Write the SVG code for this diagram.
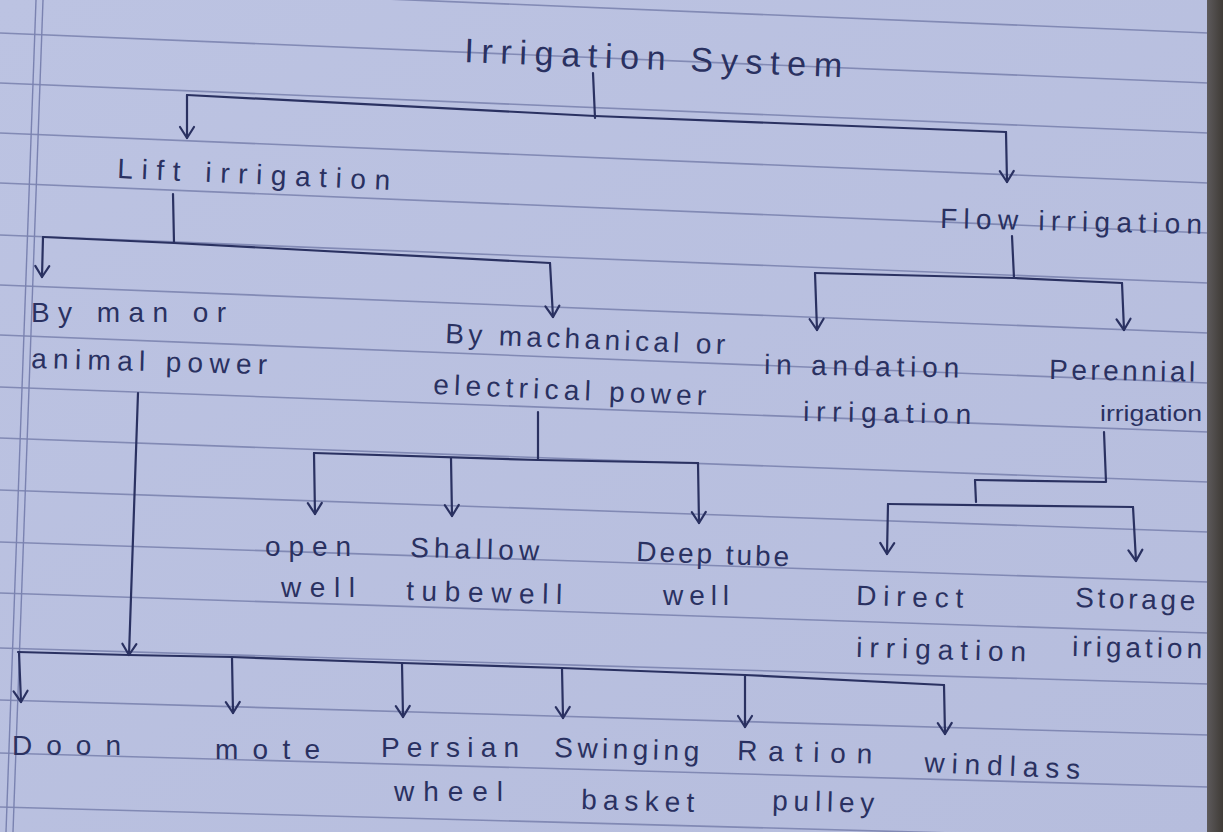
<svg xmlns="http://www.w3.org/2000/svg" width="1223" height="832" viewBox="0 0 1223 832">
<style>
.t{font-family:"Liberation Sans","DejaVu Sans",sans-serif;font-size:28px;fill:#2a3161}
.title{font-size:34px}
.sm{font-size:22px}
.rule{stroke:#6f77a6;stroke-width:1.6;opacity:0.75;fill:none}
.margin{stroke:#7a82b0;stroke-width:1.4;fill:none}
.c{stroke:#2a3161;stroke-width:2.2;fill:none;stroke-linecap:round;stroke-linejoin:round}
.a{marker-end:url(#arr)}
</style>
<defs>
<linearGradient id="paper" x1="0" y1="0" x2="1" y2="1">
<stop offset="0" stop-color="#bcc3e2"/>
<stop offset="1" stop-color="#b6bddd"/>
</linearGradient>
<linearGradient id="bind" x1="0" y1="0" x2="1" y2="0">
<stop offset="0" stop-color="#5d5a5c"/>
<stop offset="1" stop-color="#3f3b36"/>
</linearGradient>
<marker id="arr" viewBox="-13 -9 15 18" refX="0" refY="0" markerWidth="15" markerHeight="18" markerUnits="userSpaceOnUse" orient="auto">
<path d="M-11,-7 L0,0 L-11,7" fill="none" stroke="#2a3161" stroke-width="2.2" stroke-linecap="round" stroke-linejoin="round"/>
</marker>
</defs>
<rect width="1223" height="832" fill="url(#paper)"/>
<g id="ruling">
<line class="rule" x1="0" y1="-17" x2="1208" y2="33"/>
<line class="rule" x1="0" y1="33" x2="1208" y2="83"/>
<line class="rule" x1="0" y1="83" x2="1208" y2="133"/>
<line class="rule" x1="0" y1="133" x2="1208" y2="183"/>
<line class="rule" x1="0" y1="183" x2="1208" y2="233"/>
<line class="rule" x1="0" y1="235" x2="1208" y2="283"/>
<line class="rule" x1="0" y1="285" x2="1208" y2="333"/>
<line class="rule" x1="0" y1="335" x2="1208" y2="383"/>
<line class="rule" x1="0" y1="387" x2="1208" y2="432"/>
<line class="rule" x1="0" y1="438" x2="1208" y2="482"/>
<line class="rule" x1="0" y1="490" x2="1208" y2="532"/>
<line class="rule" x1="0" y1="542" x2="1208" y2="582"/>
<line class="rule" x1="0" y1="593" x2="1208" y2="633"/>
<line class="rule" x1="0" y1="648" x2="1208" y2="684"/>
<line class="rule" x1="0" y1="700" x2="1208" y2="735"/>
<line class="rule" x1="0" y1="753" x2="1208" y2="787"/>
<line class="rule" x1="0" y1="807" x2="1208" y2="840"/>
<line class="margin" x1="36" y1="0" x2="6" y2="832"/>
<line class="margin" x1="43" y1="0" x2="13" y2="832"/>
</g>
<g id="connectors">
<path class="c" d="M593,73 L595,118"/>
<path class="c" d="M187,95 L595,116 L1006,132"/>
<path class="c a" d="M187,95 L187,138"/>
<path class="c a" d="M1006,132 L1007,182"/>
<path class="c" d="M173,194 L174,243"/>
<path class="c" d="M43,237 L174,243 L550,263"/>
<path class="c a" d="M43,237 L42,277"/>
<path class="c a" d="M550,263 L553,317"/>
<path class="c" d="M1012,236 L1014,278"/>
<path class="c" d="M815,273 L1014,278 L1122,283"/>
<path class="c a" d="M815,273 L817,330"/>
<path class="c a" d="M1122,283 L1124,330"/>
<path class="c a" d="M138,393 L129,655"/>
<path class="c" d="M18,652 L129,655 L232,657 L402,663 L562,668 L745,675 L944,685"/>
<path class="c a" d="M19,652 L21,702"/>
<path class="c a" d="M232,657 L233,713"/>
<path class="c a" d="M402,663 L403,717"/>
<path class="c a" d="M562,668 L563,718"/>
<path class="c a" d="M745,675 L745,727"/>
<path class="c a" d="M944,685 L945,734"/>
<path class="c" d="M538,412 L538,460"/>
<path class="c" d="M314,453 L538,460 L698,463"/>
<path class="c a" d="M314,453 L315,514"/>
<path class="c a" d="M451,458 L452,516"/>
<path class="c a" d="M698,463 L699,523"/>
<path class="c" d="M1104,432 L1106,482 L975,480"/>
<path class="c" d="M975,480 L976,502"/>
<path class="c" d="M888,504 L1133,507"/>
<path class="c a" d="M888,504 L887,554"/>
<path class="c a" d="M1133,507 L1136,561"/>
</g>
<g id="n-irrigation-system"><text class="t title" x="464" y="62" textLength="378" lengthAdjust="spacing" transform="rotate(2.3 464 62)">Irrigation System</text></g>
<g id="n-lift"><text class="t" x="117" y="178" textLength="273" lengthAdjust="spacing" transform="rotate(2.5 117 178)">Lift irrigation</text></g>
<g id="n-flow"><text class="t" x="940" y="228" textLength="262" lengthAdjust="spacing" transform="rotate(1.3 940 228)">Flow irrigation</text></g>
<g id="n-man-animal">
<text class="t" x="31" y="322" textLength="195" lengthAdjust="spacing">By man or</text>
<text class="t" x="31" y="368" textLength="236" lengthAdjust="spacing" transform="rotate(1.5 31 368)">animal power</text>
</g>
<g id="n-mech-elec">
<text class="t" x="445" y="343" textLength="280" lengthAdjust="spacing" transform="rotate(2.3 445 343)">By machanical or</text>
<text class="t" x="433" y="394" textLength="273" lengthAdjust="spacing" transform="rotate(2.4 433 394)">electrical power</text>
</g>
<g id="n-inandation">
<text class="t" x="764" y="374" textLength="195" lengthAdjust="spacing" transform="rotate(1 764 374)">in andation</text>
<text class="t" x="803" y="421" textLength="168" lengthAdjust="spacing" transform="rotate(1 803 421)">irrigation</text>
</g>
<g id="n-perennial">
<text class="t" x="1049" y="379" textLength="146" lengthAdjust="spacing" transform="rotate(1 1049 379)">Perennial</text>
<text class="t sm" x="1100" y="421" textLength="102" lengthAdjust="spacingAndGlyphs">irrigation</text>
</g>
<g id="n-open-well">
<text class="t" x="265" y="556" textLength="86" lengthAdjust="spacing">open</text>
<text class="t" x="281" y="597" textLength="74" lengthAdjust="spacing">well</text>
</g>
<g id="n-shallow">
<text class="t" x="410" y="557" textLength="129" lengthAdjust="spacing" transform="rotate(1.5 410 557)">Shallow</text>
<text class="t" x="406" y="600" textLength="156" lengthAdjust="spacing" transform="rotate(1.5 406 600)">tubewell</text>
</g>
<g id="n-deep">
<text class="t" x="636" y="561" textLength="153" lengthAdjust="spacing" transform="rotate(2 636 561)">Deep tube</text>
<text class="t" x="663" y="605" textLength="66" lengthAdjust="spacing">well</text>
</g>
<g id="n-direct">
<text class="t" x="856" y="605" textLength="107" lengthAdjust="spacing" transform="rotate(1.5 856 605)">Direct</text>
<text class="t" x="856" y="657" textLength="170" lengthAdjust="spacing" transform="rotate(1.5 856 657)">irrigation</text>
</g>
<g id="n-storage">
<text class="t" x="1075" y="607" textLength="120" lengthAdjust="spacing" transform="rotate(1.5 1075 607)">Storage</text>
<text class="t" x="1072" y="656" textLength="130" lengthAdjust="spacing" transform="rotate(1 1072 656)">irigation</text>
</g>
<g id="n-doon"><text class="t" x="12" y="755" textLength="109" lengthAdjust="spacing">Doon</text></g>
<g id="n-mote"><text class="t" x="215" y="759" textLength="105" lengthAdjust="spacing">mote</text></g>
<g id="n-persian">
<text class="t" x="381" y="757" textLength="138" lengthAdjust="spacing">Persian</text>
<text class="t" x="394" y="801" textLength="109" lengthAdjust="spacing">wheel</text>
</g>
<g id="n-swinging">
<text class="t" x="554" y="757" textLength="145" lengthAdjust="spacing" transform="rotate(1.5 554 757)">Swinging</text>
<text class="t" x="581" y="809" textLength="113" lengthAdjust="spacing" transform="rotate(1.5 581 809)">basket</text>
</g>
<g id="n-ration">
<text class="t" x="737" y="760" textLength="135" lengthAdjust="spacing" transform="rotate(1.5 737 760)">Ration</text>
<text class="t" x="772" y="810" textLength="102" lengthAdjust="spacing" transform="rotate(1.5 772 810)">pulley</text>
</g>
<g id="n-windlass"><text class="t" x="924" y="772" textLength="156" lengthAdjust="spacing" transform="rotate(2.5 924 772)">windlass</text></g>
<rect x="1207" y="0" width="16" height="832" fill="url(#bind)"/>
</svg>
